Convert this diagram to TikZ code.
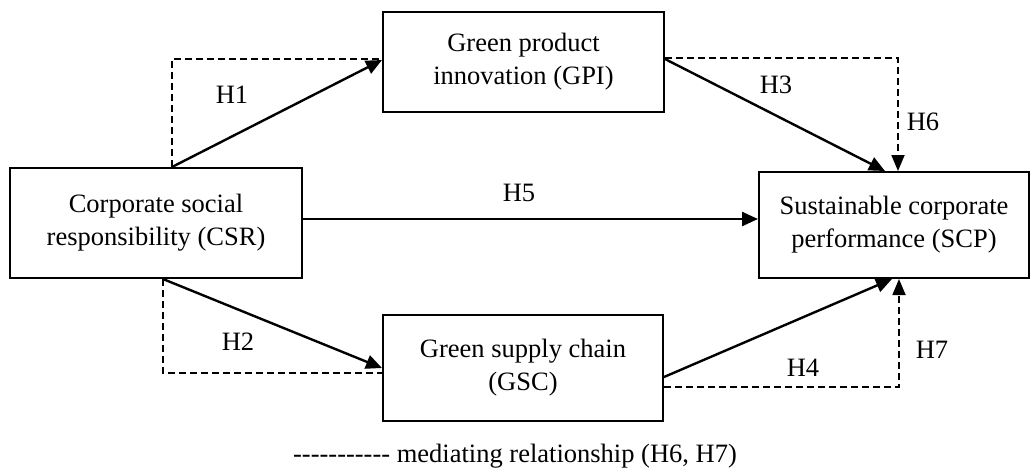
\documentclass[tikz,border=0pt]{standalone}
\usepackage{fontspec}
\setmainfont{Liberation Serif}
\usetikzlibrary{arrows.meta,calc}
\tikzset{
  kasten/.style={draw, line width=1pt, inner sep=0pt, align=center, font=\fontsize{13.25}{16.5}\selectfont},
  pfeil/.style={line width=1.2pt, -{Triangle[length=8pt,width=7pt]}},
  vermittlung/.style={line width=0.9pt, dash pattern=on 3.5pt off 2pt},
  hyp/.style={font=\fontsize{13.25}{16.5}\selectfont, inner sep=0pt}
}
\newcommand{\strich}{-\kern0pt}
\begin{document}
\begin{tikzpicture}[x=0.5pt, y=-0.5pt]
	\useasboundingbox (0,0) rectangle (1030,468);
	% Kaesten
	\node[kasten, minimum width=146pt, minimum height=55pt] (csr) at (156,223) {Corporate social\\responsibility (CSR)};
	\node[kasten, minimum width=140.5pt, minimum height=50pt] (gpi) at (523.5,62) {Green product\\innovation (GPI)};
	\node[kasten, minimum width=140pt, minimum height=53pt] (gsc) at (523,368) {Green supply chain\\(GSC)};
	\node[kasten, minimum width=135pt, minimum height=53pt] (scp) at (894,225) {Sustainable corporate\\performance (SCP)};
	% direkte Pfeile
	\draw[pfeil] ($(csr.north)+(16,0)$) -- ($(gpi.west)+(0,-2)$);
	\draw[pfeil] ($(csr.south)+(7,0)$) -- (gsc.west);
	\draw[pfeil] ($(gpi.east)+(0,-3)$) -- ($(scp.north)+(-9,0)$);
	\draw[pfeil] ($(gsc.east)+(0,9)$) -- ($(scp.south)+(-2,0)$);
	\draw[pfeil] ($(csr.east)+(0,-4)$) coordinate (h5) -- (h5 -| scp.west);
	% vermittelnde Pfade
	\draw[vermittlung] ($(csr.north)+(16,0)$) |- ($(gpi.west)+(0,-3)$);
	\draw[vermittlung] ($(csr.south)+(7,0)$) |- ($(gsc.west)+(0,5)$);
	\draw[vermittlung, -{Triangle[length=8pt,width=6.5pt]}] ($(gpi.east)+(0,-4)$) -| ($(scp.north)+(4,0)$);
	\draw[vermittlung, -{Triangle[length=8pt,width=6.5pt]}] ($(gsc.east)+(0,19)$) -| ($(scp.south)+(5,0)$);
	% Hypothesen
	\node[hyp] (h1) at (232,95) {H1};
	\node[hyp] (h2) at (238,342) {H2};
	\node[hyp] (h3) at (776,85) {H3};
	\node[hyp] (h4) at (803,368) {H4};
	\node[hyp] (h5l) at (519,193) {H5};
	\node[hyp] (h6) at (923,122) {H6};
	\node[hyp] (h7) at (932,350) {H7};
	% Legende
	\node[hyp, anchor=base] (legende) at (515,462) {\strich\strich\strich\strich\strich\strich\strich\strich\strich\strich- mediating relationship (H6, H7)};
\end{tikzpicture}
\end{document}
